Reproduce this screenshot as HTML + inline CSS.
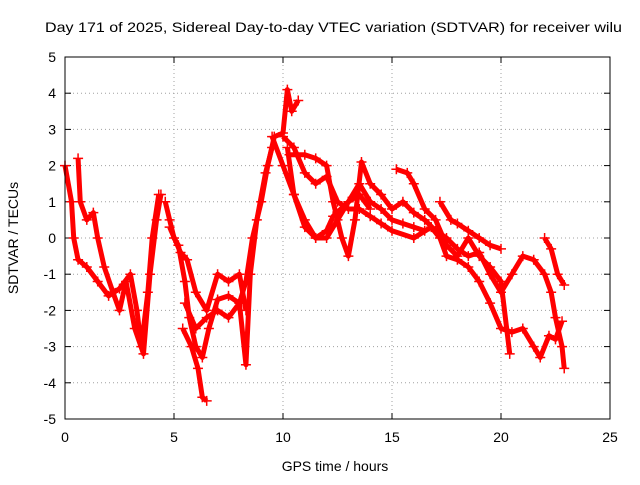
<!DOCTYPE html>
<html><head><meta charset="utf-8"><style>
body{margin:0;background:#fff;}
svg text{font-family:"Liberation Sans",sans-serif;font-size:14px;fill:#000;}
</style></head><body>
<svg id="chart" width="640" height="480">
<text x="45" y="32" textLength="577" lengthAdjust="spacingAndGlyphs">Day 171 of 2025, Sidereal Day-to-day VTEC variation (SDTVAR) for receiver wilu</text>
<text x="335" y="471" text-anchor="middle">GPS time / hours</text>
<text x="18" y="238" text-anchor="middle" transform="rotate(-90 18 238)">SDTVAR / TECUs</text>
<g id="grid"></g><g id="marks"></g>
<rect x="65" y="57" width="545" height="362" fill="none" stroke="#000" stroke-width="1"/>
</svg>
<script>
const xTicks=[0,5,10,15,20,25];
const yTicks=[-5,-4,-3,-2,-1,0,1,2,3,4,5];
const trackA=[[0,2.0],[0.3,1.0],[0.4,0],[0.6,-0.6],[1.0,-0.8],[1.5,-1.2],[2,-1.6],[2.5,-1.4],[3.0,-1.0],[3.3,-2.0],[3.5,-3.0],[3.8,-1.5],[4.0,0],[4.3,1.2]];
const trackB=[[0.6,2.2],[0.7,1.0],[1,0.5],[1.3,0.7],[1.5,0],[1.8,-0.8],[2.2,-1.5],[2.5,-2],[2.8,-1.2],[3.2,-2.5],[3.6,-3.2],[3.9,-1],[4.2,0.5],[4.4,1.2]];
const trackC=[[4.6,1.0],[4.8,0.5],[5.0,0],[5.2,-0.2],[5.5,-1.2],[5.7,-2.2],[6.0,-3.0],[6.3,-3.3],[6.6,-2.5],[7.0,-1.7],[7.5,-1.6],[8.0,-1.8],[8.3,-1.2],[8.6,0],[9.0,1],[9.3,2.0],[9.6,2.8],[10,2.9],[10.2,4.1],[10.4,3.5],[10.7,3.8]];
const trackD=[[5.4,-2.5],[5.8,-3.0],[6.1,-3.6],[6.3,-4.4],[6.5,-4.5]];
const trackE=[[5.5,-1.8],[6.0,-2.5],[6.5,-2.2],[7.0,-2.0],[7.5,-2.2],[8.0,-1.8],[8.3,-3.5],[8.5,-1.0],[8.8,0.5],[9.2,1.8],[9.5,2.5]];
const trackF=[[4.8,0.3],[5.3,-0.4],[5.6,-0.6],[6.0,-1.5],[6.5,-2.0],[7.0,-1.0],[7.5,-1.2],[8.0,-1.0],[8.3,-2.0]];
const trackG=[[9.5,2.8],[10,2.0],[10.5,1.2],[11,0.5],[11.5,0],[12,0],[12.5,0.5],[13,1.0],[13.5,1.5],[14,1.0],[14.5,0.8],[15,0.5],[15.5,0.4],[16,0.3],[16.5,0.2]];
const trackH=[[10,2.8],[10.5,2.5],[11,1.8],[11.5,1.5],[12,1.7],[12.5,1.0],[13,0.8],[13.5,0.8],[14,0.6],[14.5,0.4],[15,0.2],[16,0.0],[16.8,0.3],[17.2,0],[17.5,-0.5],[18,-0.6],[18.5,-0.8],[19,-1.2],[19.5,-1.8],[20,-2.5],[20.5,-2.6],[21,-2.5],[21.5,-3.0],[21.8,-3.3],[22.2,-2.7],[22.5,-2.8],[22.8,-2.3]];
const trackI=[[10.3,2.3],[11,2.3],[11.5,2.2],[12,2.0],[12.3,1.0],[12.7,0.0],[13,-0.5],[13.3,0.5],[13.6,2.1],[14,1.5],[14.5,1.2],[15,0.8],[15.5,1.0],[16,0.7],[16.5,0.5],[17,0.2],[17.5,0],[18,-0.3],[18.5,-0.5],[19,-0.4],[19.5,-1.0],[20,-1.5],[20.5,-1.0],[21,-0.5],[21.5,-0.6],[22,-1.0],[22.3,-1.5],[22.5,-2.2],[22.8,-3.0],[22.9,-3.6]];
const trackJ=[[15.2,1.9],[15.7,1.8],[16,1.5],[16.5,0.8],[17,0.5],[17.5,-0.2],[18,-0.5],[18.5,0],[19,-0.5],[19.5,-0.8],[20,-1.2],[20.4,-3.2]];
const trackK=[[17.2,1.0],[17.7,0.5],[18,0.4],[18.5,0.2],[19,0],[19.5,-0.2],[20,-0.3]];
const trackL=[[22,0],[22.3,-0.3],[22.6,-1.0],[22.9,-1.3]];
const trackM=[[10.2,2.5],[10.5,1.2],[11,0.3],[11.5,0.0],[12,0.2],[12.3,0.6],[13,1.0],[13.5,1.2],[14,0.8]];
const tracks=[trackA,trackB,trackC,trackD,trackE,trackF,trackG,trackH,trackI,trackJ,trackK,trackL,trackM];

const X0=65,X1=610,Y0=419,Y1=57;
function sx(v){return X0+(v-0)/(25-0)*(X1-X0);}
function sy(v){return Y0-(v+5)/10*(Y0-Y1);}
const NS="http://www.w3.org/2000/svg";
const grid=document.getElementById('grid'),marks=document.getElementById('marks');
function mk(tag,attrs,parent){const e=document.createElementNS(NS,tag);for(const k in attrs)e.setAttribute(k,attrs[k]);parent.appendChild(e);return e;}
xTicks.forEach(t=>{
  const x=sx(t);
  if(t>0&&t<25){const g=mk('line',{x1:x,x2:x,y1:Y1,y2:Y0,stroke:'#a0a0a0','stroke-dasharray':'1,3'},grid);
  
  }
  mk('line',{x1:x,x2:x,y1:Y0,y2:Y0-6,stroke:'#000'},grid);
  mk('line',{x1:x,x2:x,y1:Y1,y2:Y1+6,stroke:'#000'},grid);
  const tx=mk('text',{x:x,y:Y0+23,'text-anchor':'middle'},grid);tx.textContent=t;
  
  
});
yTicks.forEach(t=>{
  const y=sy(t);
  if(t>-5&&t<5){const g=mk('line',{x1:X0,x2:X1,y1:y,y2:y,stroke:'#a0a0a0','stroke-dasharray':'1,3'},grid);
  
  }
  mk('line',{x1:X0,x2:X0+6,y1:y,y2:y,stroke:'#000'},grid);
  mk('line',{x1:X1,x2:X1-6,y1:y,y2:y,stroke:'#000'},grid);
  const tx=mk('text',{x:X0-9,y:y+5,'text-anchor':'end'},grid);tx.textContent=t;
  
  
});
tracks.forEach((tr,i)=>{
  const pl=mk('polyline',{points:tr.map(p=>sx(p[0])+','+sy(p[1])).join(' '),fill:'none',stroke:'#ff0000','stroke-width':5,'stroke-linejoin':'round'},marks);
  
  
  tr.forEach(p=>{
    const x=sx(p[0]),y=sy(p[1]);
    const m=mk('path',{d:`M${x-5},${y}H${x+5}M${x},${y-5}V${y+5}`,stroke:'#ff0000','stroke-width':1.5},marks);
    
    
  });
});
</script>
</body></html>
